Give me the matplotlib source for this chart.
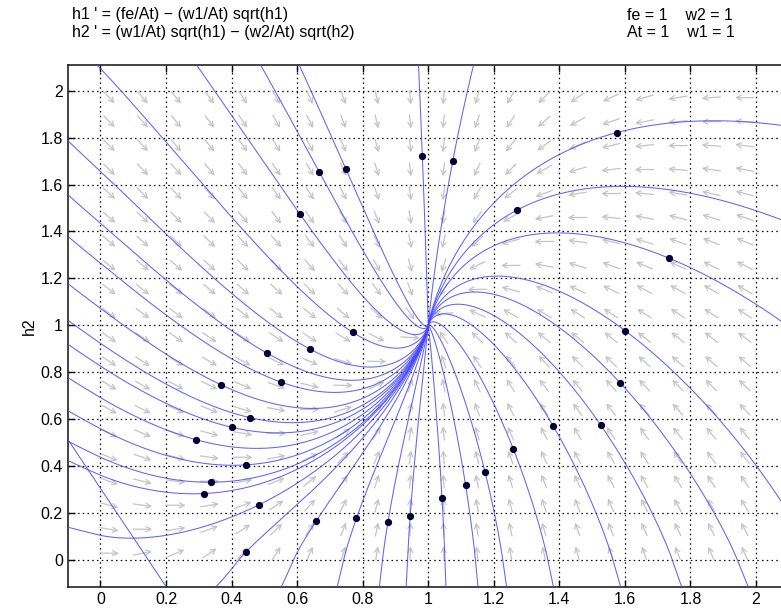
import numpy as np
import matplotlib

matplotlib.use("Agg")
import matplotlib.pyplot as plt

plt.rcParams["font.family"] = ["Liberation Sans", "DejaVu Sans"]

# model parameters shown in the header
fe, At, w1, w2 = 1.0, 1.0, 1.0, 1.0

# initial points (h1, h2) of the computed solutions
start_h1 = [1.575, 1.272, 1.735, 1.601, 1.585, 1.526, 1.381, 1.260, 1.173,
            1.114, 1.042, 0.945, 0.877, 0.781, 0.659, 0.485, 0.445, 0.317,
            0.336, 0.443, 0.292, 0.401, 0.457, 0.368, 0.550, 0.508, 0.638,
            0.769, 0.608, 0.667, 0.748, 0.982, 1.075]
start_h2 = [1.821, 1.492, 1.286, 0.977, 0.756, 0.576, 0.572, 0.472, 0.377,
            0.319, 0.265, 0.190, 0.162, 0.179, 0.169, 0.237, 0.037, 0.284,
            0.332, 0.406, 0.513, 0.566, 0.607, 0.747, 0.759, 0.882, 0.900,
            0.971, 1.475, 1.655, 1.668, 1.721, 1.702]

# one stray solver step after a solution left the window through h1 < 0
stray_h1 = [-0.1, 0.2]
stray_h2 = [0.515, -0.112]

h1_ticks = [0, 0.2, 0.4, 0.6, 0.8, 1, 1.2, 1.4, 1.6, 1.8, 2]
h2_ticks = [0, 0.2, 0.4, 0.6, 0.8, 1, 1.2, 1.4, 1.6, 1.8, 2]

xlim = (-0.1, 2.1)
ylim = (-0.114, 2.109)


def rhs(h1, h2):
    s1 = np.sqrt(np.clip(h1, 0, None))
    s2 = np.sqrt(np.clip(h2, 0, None))
    return (fe - w1 * s1) / At, (w1 * s1 - w2 * s2) / At


def solve(p0, sign, dt=0.01, nmax=4000):
    p = np.array(p0, dtype=float)
    pts = [p.copy()]
    f = lambda q: sign * np.array(rhs(q[0], q[1]))
    for _ in range(nmax):
        k1 = f(p)
        k2 = f(p + 0.5 * dt * k1)
        k3 = f(p + 0.5 * dt * k2)
        k4 = f(p + dt * k3)
        p = p + dt / 6 * (k1 + 2 * k2 + 2 * k3 + k4)
        pts.append(p.copy())
        if not (xlim[0] - 0.05 < p[0] < xlim[1] + 0.05 and ylim[0] - 0.05 < p[1] < ylim[1] + 0.05):
            break
        if sign > 0 and np.hypot(p[0] - 1, p[1] - 1) < 2e-3:
            break
    return np.array(pts)


fig = plt.figure(figsize=(7.81, 6.09), dpi=100)
ax = fig.add_axes([67.7 / 781, 22 / 609, 721.1 / 781, 522 / 609])
ax.set_xlim(*xlim)
ax.set_ylim(*ylim)

# direction field
gx, gy = np.meshgrid(np.linspace(0.027, 1.965, 20), np.linspace(0.03, 1.97, 20))
u, v = rhs(gx, gy)
n = np.hypot(u, v)
n[n == 0] = 1
L = 0.058
for cx, cy, du, dv in zip(gx.ravel(), gy.ravel(), (u / n).ravel(), (v / n).ravel()):
    ax.annotate("", xy=(cx + 0.5 * L * du, cy + 0.5 * L * dv),
                xytext=(cx - 0.5 * L * du, cy - 0.5 * L * dv),
                arrowprops=dict(arrowstyle="->,head_length=0.35,head_width=0.18",
                                color="#c4c4c4", lw=0.9, shrinkA=0, shrinkB=0),
                annotation_clip=True)

# solutions
line_kw = dict(color="#4646ff", lw=0.75, alpha=0.85, zorder=3)
for a, b in zip(start_h1, start_h2):
    back = solve((a, b), -1)
    fwd = solve((a, b), 1)
    path = np.vstack([back[::-1], fwd[1:]])
    ax.plot(path[:, 0], path[:, 1], **line_kw)
ax.plot(stray_h1, stray_h2, **line_kw)
ax.plot(start_h1, start_h2, "o", color="#000033", ms=4.2, zorder=4)

ax.set_xticks(h1_ticks)
ax.set_xticklabels([f"{t:g}" for t in h1_ticks])
ax.set_yticks(h2_ticks)
ax.set_yticklabels([f"{t:g}" for t in h2_ticks])
ax.tick_params(direction="in", length=5, width=1, labelsize=11.5, top=True, right=True)
ax.grid(True, color="black", linestyle=(0, (1.2, 2.6)), lw=0.9)
ax.set_axisbelow(True)
for s in ax.spines.values():
    s.set_linewidth(1.2)
    s.set_color("#222222")
ax.set_ylabel("h2", fontsize=11.5)
ax.yaxis.set_label_coords(-0.043, 0.5)

fig.text(72 / 781, 1 - 15 / 609, "h1 ' = (fe/At) \u2212 (w1/At) sqrt(h1)", fontsize=11.5, va="center")
fig.text(72 / 781, 1 - 32.5 / 609, "h2 ' = (w1/At) sqrt(h1) \u2212 (w2/At) sqrt(h2)", fontsize=11.5, va="center")
fig.text(627 / 781, 1 - 15 / 609, "fe = 1    w2 = 1", fontsize=11.5, va="center")
fig.text(627 / 781, 1 - 32.5 / 609, "At = 1    w1 = 1", fontsize=11.5, va="center")

fig.savefig("out.png", dpi=100)
